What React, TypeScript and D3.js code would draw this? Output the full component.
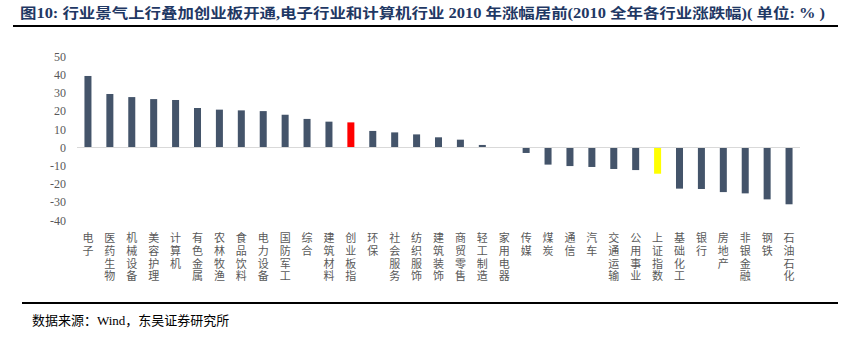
import React from "react";
import * as d3 from "d3";

const categories = ["电子","医药生物","机械设备","美容护理","计算机","有色金属","农林牧渔","食品饮料","电力设备","国防军工","综合","建筑材料","创业板指","环保","社会服务","纺织服饰","建筑装饰","商贸零售","轻工制造","家用电器","传媒","煤炭","通信","汽车","交通运输","公用事业","上证指数","基础化工","银行","房地产","非银金融","钢铁","石油石化"];
const values = [39.3,29.4,27.7,26.6,26.1,21.7,20.8,20.4,20.0,18.0,15.7,14.2,13.8,9.1,8.3,7.2,5.6,4.3,1.4,-0.2,-3.0,-9.4,-10.2,-10.7,-11.8,-12.4,-14.4,-22.6,-22.8,-24.5,-25.2,-28.5,-31.2];
const highlightRed = ["创业板指"];
const highlightYellow = ["上证指数"];
const yTicks = [50,40,30,20,10,0,-10,-20,-30,-40];
const title = "图10:  行业景气上行叠加创业板开通,电子行业和计算机行业 2010 年涨幅居前(2010 全年各行业涨跌幅)( 单位: % )";
const source = "数据来源：Wind，东吴证券研究所";

const W = 852, H = 339;
const FONT = "'Liberation Serif', 'Noto Sans CJK SC', serif";

export default function App() {
  const x = d3.scaleBand<string>().domain(categories).range([77, 800]).paddingInner(0.68).paddingOuter(0.34);
  const y = d3.scaleLinear().domain([-40, 50]).range([220.3, 56.5]);
  const color = (c: string) => highlightRed.includes(c) ? "#FF0000" : highlightYellow.includes(c) ? "#FFFF00" : "#44546A";
  return (
    <svg width={W} height={H} style={{ position: "absolute", left: 0, top: 0, background: "#fff" }}>
      <text x={20} y={18} fontFamily={FONT} fontWeight="bold" fontSize={14} fill="#1F3864" textLength={805} lengthAdjust="spacingAndGlyphs">{title}</text>
      <line x1={13} x2={838} y1={26} y2={26} stroke="#000" strokeWidth={2} />
      {yTicks.map(t => (
        <text key={t} x={66} y={y(t)} dy="0.35em" textAnchor="end" fontFamily={FONT} fontSize={12} fill="#595959">{t}</text>
      ))}
      {categories.map((c, i) => {
        const v = values[i];
        return <rect key={c} x={x(c)} width={x.bandwidth()} y={Math.min(y(v), y(0))} height={Math.abs(y(v) - y(0))} fill={color(c)} />;
      })}
      <line x1={77} x2={800} y1={y(0)} y2={y(0)} stroke="#D9D9D9" strokeWidth={1} />
      {categories.map(c => (
        <g key={c}>
          {Array.from(c).map((ch, j) => (
            <text key={j} x={(x(c) as number) + x.bandwidth() / 2} y={242 + j * 12.8}
              fontFamily="'Noto Sans CJK SC', sans-serif" fontSize={11} fill="#595959" textAnchor="middle">{ch}</text>
          ))}
        </g>
      ))}
      <line x1={22} x2={838} y1={303} y2={303} stroke="#000" strokeWidth={2} />
      <text x={32} y={325} fontFamily={FONT} fontSize={13} fill="#000">{source}</text>
    </svg>
  );
}
